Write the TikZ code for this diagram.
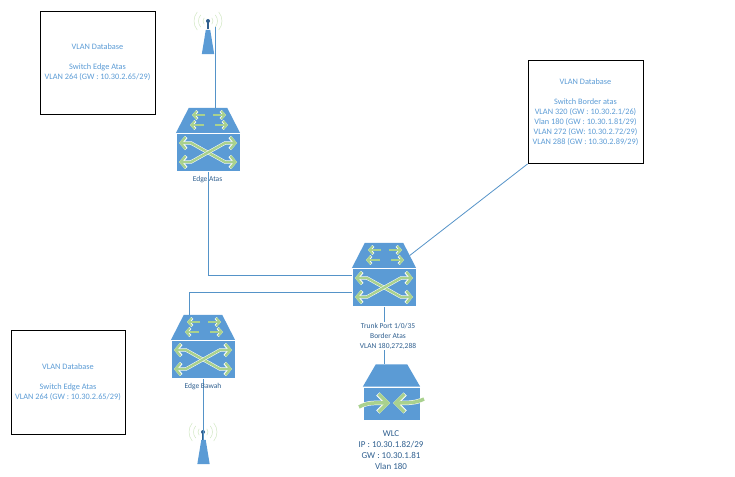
\documentclass[tikz,border=0pt]{standalone}
\usepackage{fontspec}
\setmainfont{Carlito}
\usetikzlibrary{arrows.meta}
\definecolor{iconblue}{HTML}{5B9BD5}
\definecolor{linkblue}{HTML}{5593C8}
\definecolor{textblue}{HTML}{5B9BD5}
\definecolor{labelblue}{HTML}{2F5F8F}
\definecolor{glyphgreen}{HTML}{A9D18E}
\newcommand{\slanttop}[2]{\fill[iconblue] (#1.south west) -- ([xshift=#2]#1.north west) -- ([xshift=-#2]#1.north east) -- (#1.south east) -- cycle;}
\tikzset{
  link/.style={draw=linkblue, line width=0.8pt},
  dbbox/.style={draw=black, line width=0.9pt, minimum width=115pt, minimum height=103pt, inner sep=0pt, align=center, text=textblue, font=\fontsize{8.3}{9.9}\selectfont},
  devlabel/.style={align=center, text=labelblue, inner sep=1pt, font=\fontsize{7.5}{10}\selectfont},
  wlclabel/.style={align=center, text=labelblue, font=\fontsize{9}{11}\selectfont},
  swfront/.style={fill=iconblue, draw=white, line width=0.5pt, minimum width=64pt, minimum height=38pt, inner sep=0pt},
  swtop/.style={minimum width=64pt, minimum height=25pt, inner sep=0pt},
  tower/.style={minimum width=12pt, minimum height=24pt, inner sep=0pt},
  glyph/.style={line join=miter, preaction={draw=white, line width=2.8pt, -{Straight Barb[length=3.5pt,width=8pt,line width=2.8pt]}}, draw=glyphgreen, line width=1.9pt, -{Straight Barb[length=3.5pt,width=8pt,line width=1.9pt]}},
  glyphboth/.style={line join=miter, preaction={draw=white, line width=3.4pt, {Straight Barb[length=5pt,width=12pt,line width=3.4pt]}-{Straight Barb[length=5pt,width=12pt,line width=3.4pt]}}, draw=glyphgreen, line width=2.4pt, {Straight Barb[length=5pt,width=12pt,line width=2.4pt]}-{Straight Barb[length=5pt,width=12pt,line width=2.4pt]}},
  bigglyph/.style={preaction={draw=white, line width=4.5pt, -{Straight Barb[length=9pt,width=18pt,line width=4.5pt]}}, draw=glyphgreen, line width=3.5pt, -{Straight Barb[length=9pt,width=18pt,line width=3.5pt]}},
  wave/.style={draw=glyphgreen!55, line width=0.5pt},
  switchglyphs/.pic={
    \draw[glyphboth] (-29,-9.5) -- (-17,-9.5) -- (17,9.5) -- (29,9.5);
    \draw[glyphboth] (-29,9.5) -- (-17,9.5) -- (17,-9.5) -- (29,-9.5);
    \draw[glyph] (-3,-37.5) -- (-16,-37.5);
    \draw[glyph] (-4,-27.5) -- (-18,-27.5);
    \draw[glyph] (5,-37.5) -- (18,-37.5);
    \draw[glyph] (7,-27.5) -- (20,-27.5);
  },
  apwaves/.pic={
    \foreach \r in {5,9.5,14}{
      \draw[wave] (-40:\r pt) arc (-40:40:\r pt);
      \draw[wave] (140:\r pt) arc (140:220:\r pt);
    }
    \fill[labelblue] (0,0) circle (2pt);
    \fill[labelblue] (-1,0) rectangle (1,8);
  }
}
\begin{document}
\begin{tikzpicture}[x=1pt,y=-1pt]
\useasboundingbox (0,0) rectangle (735,476);

\foreach \name/\x/\y in {edgeatas/208/152.5,border/384/287.5,edgebawah/203/359.5}{
  \node[swtop] (\name top) at (\x,\y-32) {};
  \slanttop{\name top}{13pt}
  \node[swfront] (\name) at (\x,\y) {};
}
\node[swtop,minimum width=57pt,minimum height=22pt] (wlctop) at (391.5,375.5) {};
\slanttop{wlctop}{13pt}
\node[swfront,minimum width=57pt,minimum height=33pt] (wlc) at (391.5,403.5) {};

\node[tower] (apatas) at (208,42) {};
\slanttop{apatas}{4pt}
\node[tower] (apbawah) at (203.5,452) {};
\slanttop{apbawah}{4pt}
\pic at (208,21) {apwaves};
\pic at (203,432) {apwaves};

\node[dbbox] (dbatas) at (97.5,62.5) {VLAN Database\\ \\Switch Edge Atas\\VLAN 264 (GW : 10.30.2.65/29)};
\node[dbbox] (dbborder) at (585.5,112) {VLAN Database\\ \\Switch Border atas\\VLAN 320 (GW : 10.30.2.1/26)\\Vlan 180 (GW : 10.30.1.81/29)\\VLAN 272 (GW: 10.30.2.72/29)\\VLAN 288 (GW : 10.30.2.89/29)};
\node[dbbox,minimum width=114pt,minimum height=104pt] (dbbawah) at (68,382) {VLAN Database\\ \\Switch Edge Atas\\VLAN 264 (GW : 10.30.2.65/29)};

\coordinate (apatasend) at (215.5,27);
\draw[link] (apatasend) -- (apatasend |- edgeatastop.north);
\draw[link] (edgeatas.south) |- ([yshift=12.5pt]border.west);
\draw[link] ([xshift=-14pt]edgebawahtop.north) |- ([yshift=-4.5pt]border.west);
\draw[link] ([xshift=-6.5pt]bordertop.east) -- (dbborder.south west);
\draw[link] (border.south) -- (wlctop.north -| border.south);
\draw[link] (edgebawah.south) -- (apbawah.north -| edgebawah.south);

\foreach \name in {edgeatas,border,edgebawah}{
  \pic at (\name) {switchglyphs};
}
\draw[bigglyph] (359,407) .. controls (368,402) and (375,403) .. (390,403);
\draw[bigglyph] (424,399) .. controls (416,403) and (408,403) .. (393,403);

\node[devlabel] (edgeatasname) at (207.5,180) {Edge Atas};
\node[devlabel] (edgebawahname) at (203,387) {Edge Bawah};
\node[devlabel,fill=white] (trunkname) at (388,336) {Trunk Port 1/0/35\\Border Atas\\VLAN 180,272,288};
\node[wlclabel] (wlcname) at (391,450) {WLC\\IP : 10.30.1.82/29\\GW : 10.30.1.81\\Vlan 180};
\end{tikzpicture}
\end{document}
